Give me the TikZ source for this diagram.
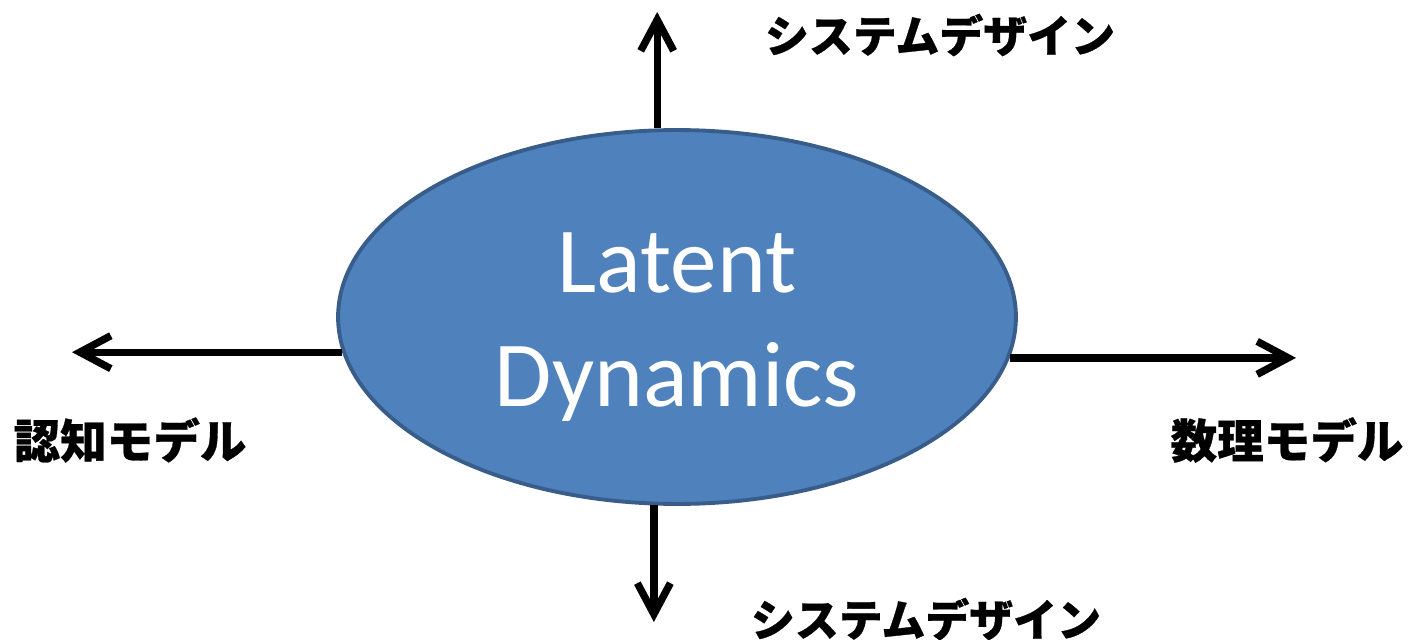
\documentclass[tikz,border=0pt]{standalone}
\usepackage{fontspec}
\setmainfont{Carlito}
\newfontfamily\jpfont{Noto Sans CJK JP}[BoldFeatures={FakeBold=0.6}]
\usepackage{tikz}
\usetikzlibrary{shapes.geometric, arrows.meta, positioning, calc}

\definecolor{corefill}{HTML}{4F81BD}
\definecolor{coreline}{HTML}{385D8A}

\begin{document}
\begin{tikzpicture}[
    x=0.02cm, y=-0.02cm,
    core/.style={draw=coreline, fill=corefill, ellipse, line width=2.2pt, minimum width=13.56cm, minimum height=7.48cm, inner sep=0pt},
    title/.style={align=center, text=white, inner sep=0pt, font=\fontsize{53}{65}\selectfont},
    axis/.style={line width=4.2pt, -{Straight Barb[length=0.62cm, width=0.66cm]}},
    lbl/.style={inner sep=0pt, font=\jpfont\bfseries\fontsize{25}{30}\selectfont},
    lblbig/.style={lbl, font=\jpfont\bfseries\fontsize{26.5}{30}\selectfont}
]
\useasboundingbox (0,0) rectangle (1413,639);

\node[core] (dyn) at (677,317) {};
\node[title] (name) at ($(dyn)+(0,10)$) {Latent\\Dynamics};

% Axis ends
\coordinate (up) at (655,12);
\coordinate (down) at (655,622);
\coordinate (left) at (72,354);
\coordinate (right) at (1296,354);

% Arrows
\draw[axis] (dyn.96.7) -- (dyn.96.7 |- up);
\draw[axis] (dyn.263.3) -- (dyn.263.3 |- down);
\draw[axis] (dyn.186.2) -- (dyn.186.2 -| left);
\draw[axis] (dyn.353.8) -- (dyn.353.8 -| right);

% Labels
\node[lbl] (sysA) at (940,35) {システムデザイン};
\node[lbl] (sysB) at (926,619) {システムデザイン};
\node[lblbig] (cog) at (130,440) {認知モデル};
\node[lblbig] (math) at (1287,440) {数理モデル};

\end{tikzpicture}
\end{document}
